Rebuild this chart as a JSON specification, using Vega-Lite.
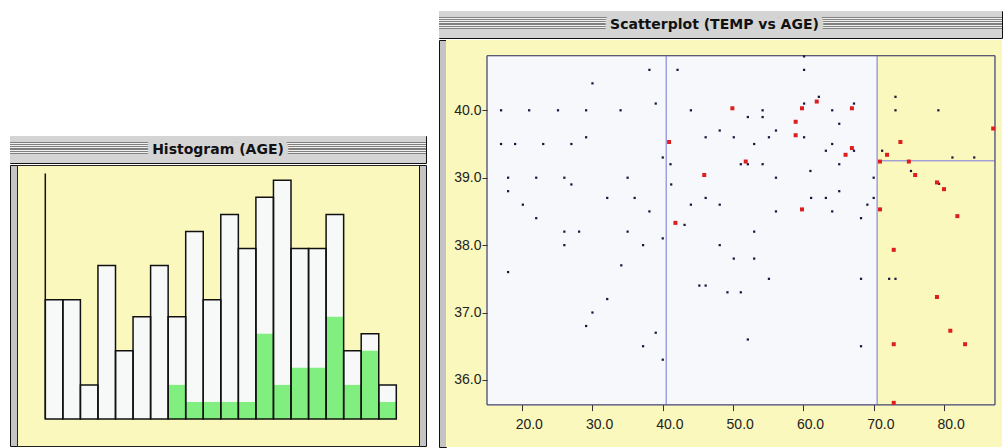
{
  "$schema": "https://vega.github.io/schema/vega-lite/v6.json",
  "background": "white",
  "padding": {"left": 9, "top": 10, "right": 0, "bottom": 0},
  "config": {"view": {"stroke": null}, "axis": {"grid": false}},
  "datasets": {
    "hist": [
      {"start": 17.0, "end": 20.5, "n": 7, "hi": 0}, {"start": 20.5, "end": 24.0, "n": 7, "hi": 0},
      {"start": 24.0, "end": 27.5, "n": 2, "hi": 0}, {"start": 27.5, "end": 31.0, "n": 9, "hi": 0},
      {"start": 31.0, "end": 34.5, "n": 4, "hi": 0}, {"start": 34.5, "end": 38.0, "n": 6, "hi": 0},
      {"start": 38.0, "end": 41.5, "n": 9, "hi": 0}, {"start": 41.5, "end": 45.0, "n": 6, "hi": 2},
      {"start": 45.0, "end": 48.5, "n": 11, "hi": 1}, {"start": 48.5, "end": 52.0, "n": 7, "hi": 1},
      {"start": 52.0, "end": 55.5, "n": 12, "hi": 1}, {"start": 55.5, "end": 59.0, "n": 10, "hi": 1},
      {"start": 59.0, "end": 62.5, "n": 13, "hi": 5}, {"start": 62.5, "end": 66.0, "n": 14, "hi": 2},
      {"start": 66.0, "end": 69.5, "n": 10, "hi": 3}, {"start": 69.5, "end": 73.0, "n": 10, "hi": 3},
      {"start": 73.0, "end": 76.5, "n": 12, "hi": 6}, {"start": 76.5, "end": 80.0, "n": 4, "hi": 2},
      {"start": 80.0, "end": 83.5, "n": 5, "hi": 4}, {"start": 83.5, "end": 87.0, "n": 2, "hi": 1}
    ],
    "leaves": [
      {"a1": 15.0, "a2": 40.5, "t1": 35.63, "t2": 40.81, "kind": "inner"},
      {"a1": 40.5, "a2": 70.5, "t1": 35.63, "t2": 40.81, "kind": "inner"},
      {"a1": 70.5, "a2": 87.25, "t1": 39.25, "t2": 40.81, "kind": "outer"},
      {"a1": 70.5, "a2": 87.25, "t1": 35.63, "t2": 39.25, "kind": "outer"}
    ],
    "points": [
      {"AGE": 38.1, "TEMP": 40.6, "group": "neg"}, {"AGE": 42.1, "TEMP": 40.6, "group": "neg"}, {"AGE": 30.0, "TEMP": 40.4, "group": "neg"},
      {"AGE": 39.0, "TEMP": 40.1, "group": "neg"}, {"AGE": 17.0, "TEMP": 40.0, "group": "neg"}, {"AGE": 21.0, "TEMP": 40.0, "group": "neg"},
      {"AGE": 25.1, "TEMP": 40.0, "group": "neg"}, {"AGE": 29.1, "TEMP": 40.0, "group": "neg"}, {"AGE": 34.0, "TEMP": 40.0, "group": "neg"},
      {"AGE": 44.0, "TEMP": 40.0, "group": "neg"}, {"AGE": 48.1, "TEMP": 39.7, "group": "neg"}, {"AGE": 29.1, "TEMP": 39.6, "group": "neg"},
      {"AGE": 46.1, "TEMP": 39.6, "group": "neg"}, {"AGE": 17.0, "TEMP": 39.5, "group": "neg"}, {"AGE": 19.0, "TEMP": 39.5, "group": "neg"},
      {"AGE": 23.0, "TEMP": 39.5, "group": "neg"}, {"AGE": 27.0, "TEMP": 39.5, "group": "neg"}, {"AGE": 40.0, "TEMP": 39.3, "group": "neg"},
      {"AGE": 41.1, "TEMP": 39.2, "group": "neg"}, {"AGE": 18.0, "TEMP": 39.0, "group": "neg"}, {"AGE": 22.0, "TEMP": 39.0, "group": "neg"},
      {"AGE": 26.0, "TEMP": 39.0, "group": "neg"}, {"AGE": 35.0, "TEMP": 39.0, "group": "neg"},
      {"AGE": 60.1, "TEMP": 40.8, "group": "neg"}, {"AGE": 60.1, "TEMP": 40.6, "group": "neg"}, {"AGE": 62.2, "TEMP": 40.2, "group": "neg"},
      {"AGE": 60.1, "TEMP": 40.1, "group": "neg"}, {"AGE": 67.2, "TEMP": 40.1, "group": "neg"}, {"AGE": 54.2, "TEMP": 40.0, "group": "neg"},
      {"AGE": 64.1, "TEMP": 40.0, "group": "neg"}, {"AGE": 73.1, "TEMP": 40.2, "group": "neg"}, {"AGE": 73.1, "TEMP": 40.0, "group": "neg"},
      {"AGE": 79.2, "TEMP": 40.0, "group": "neg"}, {"AGE": 52.1, "TEMP": 39.9, "group": "neg"}, {"AGE": 54.2, "TEMP": 39.9, "group": "neg"},
      {"AGE": 65.1, "TEMP": 39.8, "group": "neg"}, {"AGE": 56.1, "TEMP": 39.7, "group": "neg"}, {"AGE": 50.1, "TEMP": 39.6, "group": "neg"},
      {"AGE": 55.1, "TEMP": 39.6, "group": "neg"}, {"AGE": 60.1, "TEMP": 39.6, "group": "neg"}, {"AGE": 53.0, "TEMP": 39.5, "group": "neg"},
      {"AGE": 64.1, "TEMP": 39.5, "group": "neg"}, {"AGE": 63.2, "TEMP": 39.4, "group": "neg"}, {"AGE": 67.2, "TEMP": 39.4, "group": "neg"},
      {"AGE": 71.2, "TEMP": 39.4, "group": "neg"}, {"AGE": 51.1, "TEMP": 39.2, "group": "neg"}, {"AGE": 52.1, "TEMP": 39.2, "group": "neg"},
      {"AGE": 54.2, "TEMP": 39.2, "group": "neg"}, {"AGE": 65.1, "TEMP": 39.2, "group": "neg"}, {"AGE": 81.2, "TEMP": 39.3, "group": "neg"},
      {"AGE": 84.3, "TEMP": 39.3, "group": "neg"}, {"AGE": 75.3, "TEMP": 39.1, "group": "neg"}, {"AGE": 61.0, "TEMP": 39.1, "group": "neg"},
      {"AGE": 56.1, "TEMP": 39.0, "group": "neg"}, {"AGE": 70.0, "TEMP": 39.0, "group": "neg"},
      {"AGE": 27.0, "TEMP": 38.9, "group": "neg"}, {"AGE": 41.2, "TEMP": 38.9, "group": "neg"}, {"AGE": 18.0, "TEMP": 38.8, "group": "neg"},
      {"AGE": 20.1, "TEMP": 38.6, "group": "neg"}, {"AGE": 32.1, "TEMP": 38.7, "group": "neg"}, {"AGE": 36.0, "TEMP": 38.7, "group": "neg"},
      {"AGE": 46.1, "TEMP": 38.7, "group": "neg"}, {"AGE": 44.0, "TEMP": 38.6, "group": "neg"}, {"AGE": 48.1, "TEMP": 38.6, "group": "neg"},
      {"AGE": 38.1, "TEMP": 38.5, "group": "neg"}, {"AGE": 22.0, "TEMP": 38.4, "group": "neg"}, {"AGE": 43.1, "TEMP": 38.3, "group": "neg"},
      {"AGE": 26.0, "TEMP": 38.2, "group": "neg"}, {"AGE": 28.1, "TEMP": 38.2, "group": "neg"}, {"AGE": 35.0, "TEMP": 38.2, "group": "neg"},
      {"AGE": 40.0, "TEMP": 38.1, "group": "neg"}, {"AGE": 26.0, "TEMP": 38.0, "group": "neg"}, {"AGE": 37.2, "TEMP": 38.0, "group": "neg"},
      {"AGE": 48.1, "TEMP": 38.0, "group": "neg"}, {"AGE": 34.1, "TEMP": 37.7, "group": "neg"}, {"AGE": 18.0, "TEMP": 37.6, "group": "neg"},
      {"AGE": 45.2, "TEMP": 37.4, "group": "neg"}, {"AGE": 46.1, "TEMP": 37.4, "group": "neg"}, {"AGE": 49.2, "TEMP": 37.3, "group": "neg"},
      {"AGE": 32.1, "TEMP": 37.2, "group": "neg"},
      {"AGE": 79.3, "TEMP": 38.91, "group": "neg"}, {"AGE": 65.1, "TEMP": 38.8, "group": "neg"}, {"AGE": 61.1, "TEMP": 38.7, "group": "neg"},
      {"AGE": 63.2, "TEMP": 38.7, "group": "neg"}, {"AGE": 70.0, "TEMP": 38.7, "group": "neg"}, {"AGE": 69.1, "TEMP": 38.6, "group": "neg"},
      {"AGE": 56.1, "TEMP": 38.5, "group": "neg"}, {"AGE": 64.1, "TEMP": 38.5, "group": "neg"}, {"AGE": 68.2, "TEMP": 38.4, "group": "neg"},
      {"AGE": 53.0, "TEMP": 38.2, "group": "neg"}, {"AGE": 50.1, "TEMP": 37.8, "group": "neg"}, {"AGE": 53.0, "TEMP": 37.8, "group": "neg"},
      {"AGE": 55.1, "TEMP": 37.5, "group": "neg"}, {"AGE": 68.2, "TEMP": 37.5, "group": "neg"}, {"AGE": 72.2, "TEMP": 37.5, "group": "neg"},
      {"AGE": 73.1, "TEMP": 37.5, "group": "neg"}, {"AGE": 51.1, "TEMP": 37.3, "group": "neg"},
      {"AGE": 30.0, "TEMP": 37.0, "group": "neg"}, {"AGE": 29.1, "TEMP": 36.8, "group": "neg"}, {"AGE": 39.0, "TEMP": 36.7, "group": "neg"},
      {"AGE": 37.2, "TEMP": 36.5, "group": "neg"}, {"AGE": 40.0, "TEMP": 36.3, "group": "neg"}, {"AGE": 52.1, "TEMP": 36.6, "group": "neg"},
      {"AGE": 68.2, "TEMP": 36.5, "group": "neg"},
      {"AGE": 40.9, "TEMP": 39.53, "group": "pos"}, {"AGE": 45.9, "TEMP": 39.04, "group": "pos"}, {"AGE": 61.9, "TEMP": 40.13, "group": "pos"},
      {"AGE": 59.8, "TEMP": 40.03, "group": "pos"}, {"AGE": 66.9, "TEMP": 40.03, "group": "pos"}, {"AGE": 49.9, "TEMP": 40.03, "group": "pos"},
      {"AGE": 58.9, "TEMP": 39.83, "group": "pos"}, {"AGE": 58.9, "TEMP": 39.63, "group": "pos"}, {"AGE": 87.0, "TEMP": 39.73, "group": "pos"},
      {"AGE": 73.8, "TEMP": 39.53, "group": "pos"}, {"AGE": 66.9, "TEMP": 39.44, "group": "pos"}, {"AGE": 66.0, "TEMP": 39.34, "group": "pos"},
      {"AGE": 71.9, "TEMP": 39.34, "group": "pos"}, {"AGE": 70.9, "TEMP": 39.24, "group": "pos"}, {"AGE": 51.8, "TEMP": 39.24, "group": "pos"},
      {"AGE": 75.0, "TEMP": 39.24, "group": "pos"}, {"AGE": 75.9, "TEMP": 39.04, "group": "pos"}, {"AGE": 79.0, "TEMP": 38.93, "group": "pos"},
      {"AGE": 80.0, "TEMP": 38.83, "group": "pos"}, {"AGE": 59.8, "TEMP": 38.53, "group": "pos"}, {"AGE": 70.9, "TEMP": 38.53, "group": "pos"},
      {"AGE": 81.9, "TEMP": 38.43, "group": "pos"}, {"AGE": 41.8, "TEMP": 38.33, "group": "pos"}, {"AGE": 72.85, "TEMP": 37.93, "group": "pos"},
      {"AGE": 79.0, "TEMP": 37.23, "group": "pos"}, {"AGE": 72.85, "TEMP": 36.53, "group": "pos"}, {"AGE": 80.9, "TEMP": 36.73, "group": "pos"},
      {"AGE": 83.0, "TEMP": 36.53, "group": "pos"}, {"AGE": 72.85, "TEMP": 35.66, "group": "pos"}
    ]
  },
  "spacing": 11,
  "hconcat": [
    {
      "spacing": 0,
      "vconcat": [
        {"width": 416, "height": 124, "view": {"stroke": null, "fill": null}, "data": {"values": []}, "mark": "text", "encoding": {}},
        {
          "width": 416, "height": 27,
          "view": {"fill": "#d4d4d4", "stroke": "#111111"},
          "data": {"values": [{"title": "Histogram (AGE)"}]},
          "layer": [
            {"mark": {"type": "rect", "fill": {"gradient": "linear", "x1": 0, "y1": 0, "x2": 0, "y2": 1, "stops": [
              {"offset": 0, "color": "#d4d4d4"}, {"offset": 0.2143, "color": "#d4d4d4"},
              {"offset": 0.2143, "color": "#808080"}, {"offset": 0.25, "color": "#808080"},
              {"offset": 0.25, "color": "#f0f0f0"}, {"offset": 0.2857, "color": "#f0f0f0"},
              {"offset": 0.2857, "color": "#808080"}, {"offset": 0.3214, "color": "#808080"},
              {"offset": 0.3214, "color": "#f0f0f0"}, {"offset": 0.3571, "color": "#f0f0f0"},
              {"offset": 0.3571, "color": "#808080"}, {"offset": 0.3929, "color": "#808080"},
              {"offset": 0.3929, "color": "#f0f0f0"}, {"offset": 0.4286, "color": "#f0f0f0"},
              {"offset": 0.4286, "color": "#808080"}, {"offset": 0.4643, "color": "#808080"},
              {"offset": 0.4643, "color": "#f0f0f0"}, {"offset": 0.5, "color": "#f0f0f0"},
              {"offset": 0.5, "color": "#808080"}, {"offset": 0.5357, "color": "#808080"},
              {"offset": 0.5357, "color": "#f0f0f0"}, {"offset": 0.5714, "color": "#f0f0f0"},
              {"offset": 0.5714, "color": "#808080"}, {"offset": 0.6071, "color": "#808080"},
              {"offset": 0.6071, "color": "#f0f0f0"}, {"offset": 0.6429, "color": "#f0f0f0"},
              {"offset": 0.6429, "color": "#808080"}, {"offset": 0.6786, "color": "#808080"},
              {"offset": 0.6786, "color": "#d4d4d4"}, {"offset": 1, "color": "#d4d4d4"}
            ]}}, "encoding": {}},
            {"mark": {"type": "text", "font": "DejaVu Sans", "fontWeight": "bold", "fontSize": 14, "fill": "#d4d4d4", "stroke": "#d4d4d4", "strokeWidth": 11, "strokeJoin": "round"}, "encoding": {"text": {"field": "title"}}},
            {"mark": {"type": "text", "font": "DejaVu Sans", "fontWeight": "bold", "fontSize": 14, "fill": "#111111"}, "encoding": {"text": {"field": "title"}}}
          ]
        },
        {
          "spacing": 0,
          "bounds": "flush",
          "hconcat": [
            {"width": 7, "height": 281, "view": {"fill": "#c4c4c4", "stroke": "#111111"}, "data": {"values": []}, "mark": "text", "encoding": {}},
            {
              "width": 402, "height": 281,
              "view": {"fill": "#fbf8bd", "stroke": "#222222"},
              "data": {"name": "hist"},
              "layer": [
                {"mark": {"type": "bar", "fill": "#f6f9f7"},
                 "encoding": {
                   "x": {"field": "start", "type": "quantitative", "scale": {"domain": [11.356, 91.527], "nice": false, "zero": false}, "axis": null},
                   "x2": {"field": "end"},
                   "y": {"field": "n", "type": "quantitative", "scale": {"domain": [-1.584, 14.897], "nice": false, "zero": false}, "axis": null},
                   "y2": {"datum": 0}}},
                {"mark": {"type": "bar", "fill": "#80ef80"},
                 "encoding": {
                   "x": {"field": "start", "type": "quantitative", "scale": {"domain": [11.356, 91.527], "nice": false, "zero": false}, "axis": null},
                   "x2": {"field": "end"},
                   "y": {"field": "hi", "type": "quantitative", "scale": {"domain": [-1.584, 14.897], "nice": false, "zero": false}, "axis": null},
                   "y2": {"datum": 0}}},
                {"mark": {"type": "bar", "filled": false, "stroke": "#111111", "strokeWidth": 1.5},
                 "encoding": {
                   "x": {"field": "start", "type": "quantitative", "scale": {"domain": [11.356, 91.527], "nice": false, "zero": false}, "axis": null},
                   "x2": {"field": "end"},
                   "y": {"field": "n", "type": "quantitative", "scale": {"domain": [-1.584, 14.897], "nice": false, "zero": false}, "axis": null},
                   "y2": {"datum": 0}}},
                {"mark": {"type": "rule", "stroke": "#111111", "strokeWidth": 1.5},
                 "transform": [{"aggregate": [{"op": "min", "field": "start", "as": "lo"}]}],
                 "encoding": {
                   "x": {"field": "lo", "type": "quantitative", "scale": {"domain": [11.356, 91.527], "nice": false, "zero": false}, "axis": null},
                   "y": {"datum": 0, "type": "quantitative", "scale": {"domain": [-1.584, 14.897], "nice": false, "zero": false}, "axis": null},
                   "y2": {"datum": 14.4}}}
              ]
            },
            {"width": 7, "height": 281, "view": {"fill": "#c4c4c4", "stroke": "#111111"}, "data": {"values": []}, "mark": "text", "encoding": {}}
          ]
        }
      ]
    },
    {
      "spacing": 0,
      "vconcat": [
        {
          "width": 563, "height": 27,
          "view": {"fill": "#d4d4d4", "stroke": "#111111"},
          "data": {"values": [{"title": "Scatterplot (TEMP vs AGE)"}]},
          "layer": [
            {"mark": {"type": "rect", "fill": {"gradient": "linear", "x1": 0, "y1": 0, "x2": 0, "y2": 1, "stops": [
              {"offset": 0, "color": "#d4d4d4"}, {"offset": 0.2143, "color": "#d4d4d4"},
              {"offset": 0.2143, "color": "#808080"}, {"offset": 0.25, "color": "#808080"},
              {"offset": 0.25, "color": "#f0f0f0"}, {"offset": 0.2857, "color": "#f0f0f0"},
              {"offset": 0.2857, "color": "#808080"}, {"offset": 0.3214, "color": "#808080"},
              {"offset": 0.3214, "color": "#f0f0f0"}, {"offset": 0.3571, "color": "#f0f0f0"},
              {"offset": 0.3571, "color": "#808080"}, {"offset": 0.3929, "color": "#808080"},
              {"offset": 0.3929, "color": "#f0f0f0"}, {"offset": 0.4286, "color": "#f0f0f0"},
              {"offset": 0.4286, "color": "#808080"}, {"offset": 0.4643, "color": "#808080"},
              {"offset": 0.4643, "color": "#f0f0f0"}, {"offset": 0.5, "color": "#f0f0f0"},
              {"offset": 0.5, "color": "#808080"}, {"offset": 0.5357, "color": "#808080"},
              {"offset": 0.5357, "color": "#f0f0f0"}, {"offset": 0.5714, "color": "#f0f0f0"},
              {"offset": 0.5714, "color": "#808080"}, {"offset": 0.6071, "color": "#808080"},
              {"offset": 0.6071, "color": "#f0f0f0"}, {"offset": 0.6429, "color": "#f0f0f0"},
              {"offset": 0.6429, "color": "#808080"}, {"offset": 0.6786, "color": "#808080"},
              {"offset": 0.6786, "color": "#d4d4d4"}, {"offset": 1, "color": "#d4d4d4"}
            ]}}, "encoding": {}},
            {"mark": {"type": "text", "font": "DejaVu Sans", "fontWeight": "bold", "fontSize": 14, "dx": -6, "fill": "#d4d4d4", "stroke": "#d4d4d4", "strokeWidth": 11, "strokeJoin": "round"}, "encoding": {"text": {"field": "title"}}},
            {"mark": {"type": "text", "font": "DejaVu Sans", "fontWeight": "bold", "fontSize": 14, "dx": -6, "fill": "#111111"}, "encoding": {"text": {"field": "title"}}}
          ]
        },
        {
          "spacing": 0,
          "bounds": "flush",
          "hconcat": [
            {"width": 7, "height": 407, "view": {"fill": "#c4c4c4", "stroke": "#111111"}, "data": {"values": []}, "mark": "text", "encoding": {}},
            {"width": 41, "height": 407, "view": {"fill": "#fbf8bd", "stroke": null}, "data": {"values": []}, "mark": "text", "encoding": {}},
            {
              "width": 515, "height": 407,
              "view": {"fill": "#fbf8bd", "stroke": null},
              "layer": [
                {"data": {"name": "leaves"},
                 "mark": {"type": "rect", "stroke": "#8c8cdc", "strokeWidth": 1},
                 "encoding": {
                   "x": {"field": "a1", "type": "quantitative", "scale": {"domain": [15.0, 88.25], "nice": false, "zero": false},
                         "axis": {"values": [20, 30, 40, 50, 60, 70, 80], "format": ".1f", "offset": -42.4, "domain": false, "grid": false, "tickSize": 6, "tickColor": "#333333", "labelFont": "Liberation Sans", "labelFontSize": 14, "labelColor": "#222222", "labelPadding": 7, "labelAlign": "left", "labelOffset": -7, "labelFlush": false, "labelOverlap": false, "title": null, "zindex": 1}},
                   "x2": {"field": "a2"},
                   "y": {"field": "t1", "type": "quantitative", "scale": {"domain": [35.005, 41.043], "nice": false, "zero": false},
                         "axis": {"values": [36, 37, 38, 39, 40], "format": ".1f", "offset": 0, "domain": false, "grid": false, "tickSize": 5, "tickColor": "#333333", "labelFont": "Liberation Sans", "labelFontSize": 14, "labelColor": "#222222", "labelPadding": 1, "labelFlush": false, "labelOverlap": false, "title": null, "zindex": 1}},
                   "y2": {"field": "t2"},
                   "fill": {"field": "kind", "type": "nominal", "scale": {"domain": ["inner", "outer"], "range": ["#f6f8fb", "#fbf8bd"]}, "legend": null}}},
                {"data": {"name": "leaves"},
                 "transform": [{"aggregate": [{"op": "min", "field": "a1", "as": "lo"}, {"op": "max", "field": "a2", "as": "hi"}, {"op": "min", "field": "t1", "as": "bot"}, {"op": "max", "field": "t2", "as": "top"}]}],
                 "mark": {"type": "rect", "filled": false, "stroke": "#4a4a5a", "strokeWidth": 1},
                 "encoding": {
                   "x": {"field": "lo", "type": "quantitative", "scale": {"domain": [15.0, 88.25], "nice": false, "zero": false},
                         "axis": {"values": [20, 30, 40, 50, 60, 70, 80], "format": ".1f", "offset": -42.4, "domain": false, "grid": false, "tickSize": 6, "tickColor": "#333333", "labelFont": "Liberation Sans", "labelFontSize": 14, "labelColor": "#222222", "labelPadding": 7, "labelAlign": "left", "labelOffset": -7, "labelFlush": false, "labelOverlap": false, "title": null, "zindex": 1}},
                   "x2": {"field": "hi"},
                   "y": {"field": "bot", "type": "quantitative", "scale": {"domain": [35.005, 41.043], "nice": false, "zero": false},
                         "axis": {"values": [36, 37, 38, 39, 40], "format": ".1f", "offset": 0, "domain": false, "grid": false, "tickSize": 5, "tickColor": "#333333", "labelFont": "Liberation Sans", "labelFontSize": 14, "labelColor": "#222222", "labelPadding": 1, "labelFlush": false, "labelOverlap": false, "title": null, "zindex": 1}},
                   "y2": {"field": "top"}}},
                {"data": {"name": "points"},
                 "mark": {"type": "square", "opacity": 1},
                 "encoding": {
                   "x": {"field": "AGE", "type": "quantitative", "scale": {"domain": [15.0, 88.25], "nice": false, "zero": false},
                         "axis": {"values": [20, 30, 40, 50, 60, 70, 80], "format": ".1f", "offset": -42.4, "domain": false, "grid": false, "tickSize": 6, "tickColor": "#333333", "labelFont": "Liberation Sans", "labelFontSize": 14, "labelColor": "#222222", "labelPadding": 7, "labelAlign": "left", "labelOffset": -7, "labelFlush": false, "labelOverlap": false, "title": null, "zindex": 1}},
                   "y": {"field": "TEMP", "type": "quantitative", "scale": {"domain": [35.005, 41.043], "nice": false, "zero": false},
                         "axis": {"values": [36, 37, 38, 39, 40], "format": ".1f", "offset": 0, "domain": false, "grid": false, "tickSize": 5, "tickColor": "#333333", "labelFont": "Liberation Sans", "labelFontSize": 14, "labelColor": "#222222", "labelPadding": 1, "labelFlush": false, "labelOverlap": false, "title": null, "zindex": 1}},
                   "color": {"field": "group", "type": "nominal", "scale": {"domain": ["neg", "pos"], "range": ["#16163e", "#dc1e1e"]}, "legend": null},
                   "size": {"field": "group", "type": "ordinal", "scale": {"domain": ["neg", "pos"], "range": [5, 16]}, "legend": null}}}
              ]
            }
          ]
        }
      ]
    }
  ]
}
